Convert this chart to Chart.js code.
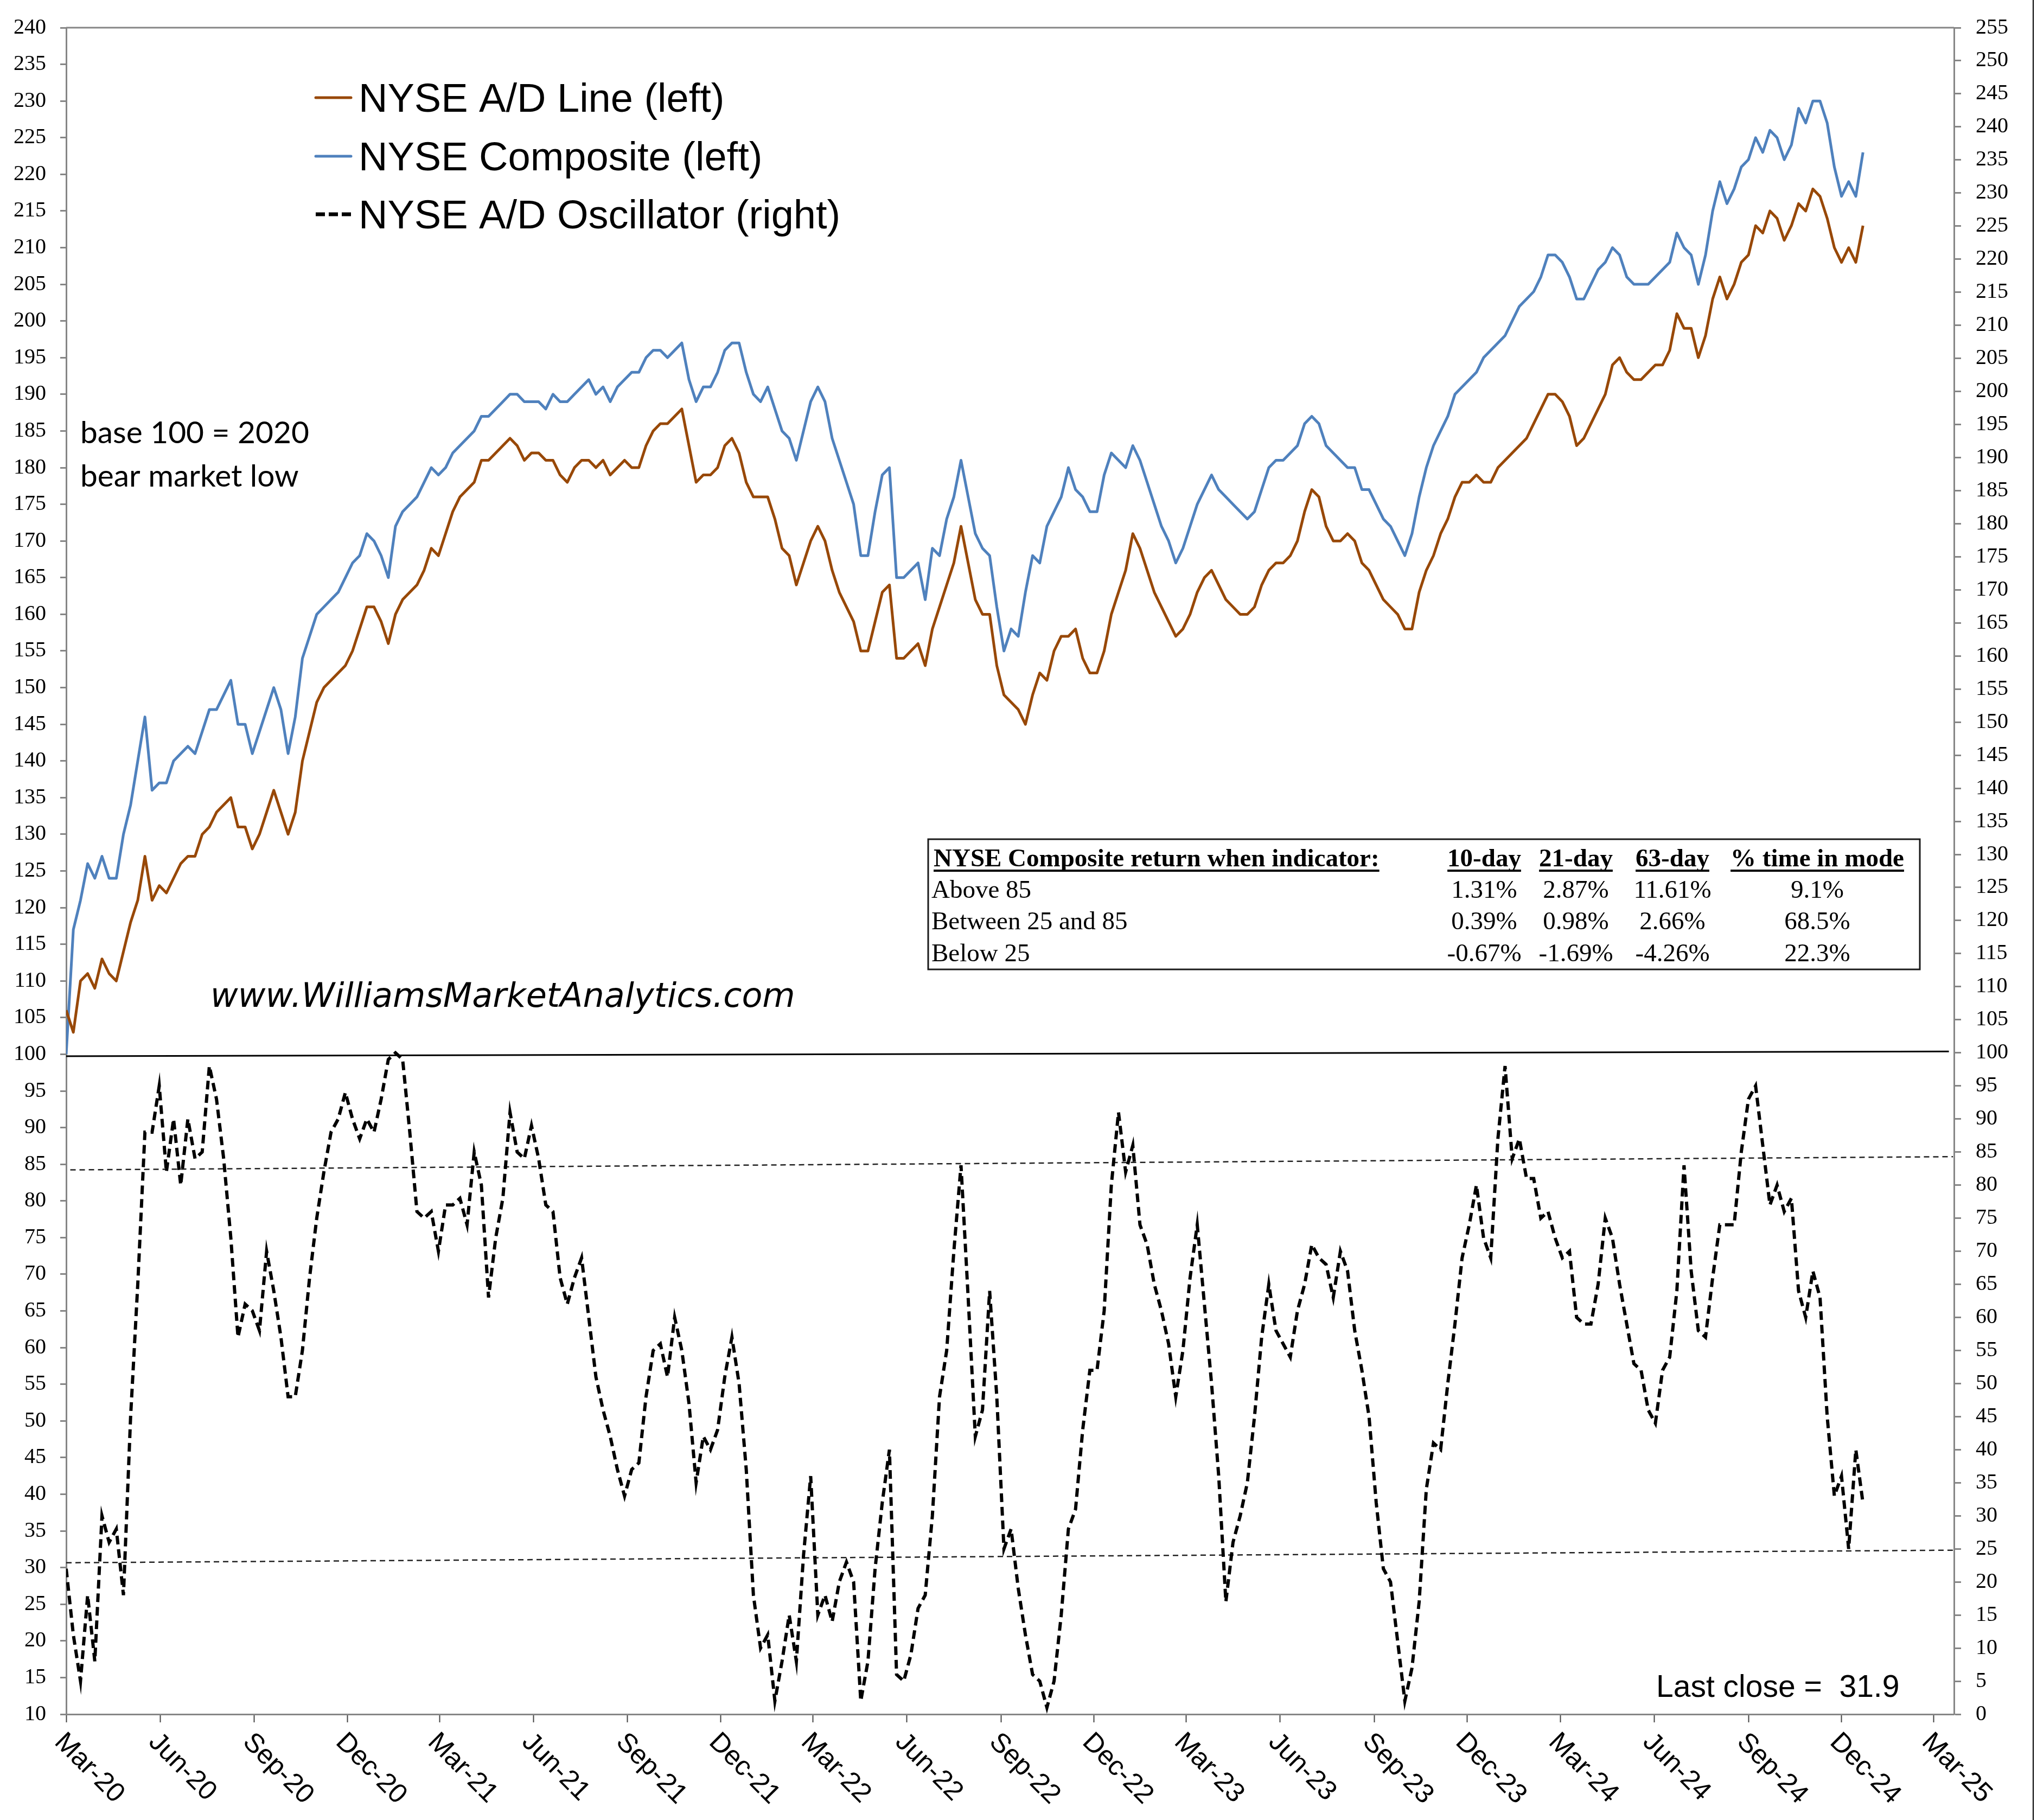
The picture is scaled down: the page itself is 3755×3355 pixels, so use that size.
<!DOCTYPE html>
<html>
<head>
<meta charset="utf-8">
<title>NYSE A/D Line, NYSE Composite and NYSE A/D Oscillator</title>
<script src="https://cdn.jsdelivr.net/npm/chart.js@4.4.1/dist/chart.umd.min.js"></script>
<style>
  html, body { margin: 0; padding: 0; background: #fff; }
  #wrap { width: 3755px; height: 3355px; }
</style>
</head>
<body>
<div id="wrap"><canvas id="chart" width="3755" height="3355"></canvas></div>
<script>
// weekly readings, first point is the 2020 bear market low
const startDate = '2020-03-23';
const stepDays = 7;

// NYSE A/D Line (left axis)
const adLine = [
  106,103,110,111,109,113,111,110,114,118,121,127,121,123,
  122,124,126,127,127,130,131,133,134,135,131,131,128,
  130,133,136,133,130,133,140,144,148,150,151,152,153,155,
  158,161,161,159,156,160,162,163,164,166,169,168,
  171,174,176,177,178,181,181,182,183,184,183,181,182,
  182,181,181,179,178,180,181,181,180,181,179,180,181,
  180,180,183,185,186,186,187,188,183,178,179,179,180,183,
  184,182,178,176,176,176,173,169,168,164,167,170,172,
  170,166,163,161,159,155,155,159,163,164,154,154,155,
  156,153,158,161,164,167,172,167,162,160,160,153,
  149,148,147,145,149,152,151,155,157,157,158,154,152,152,
  155,160,163,166,171,169,166,163,161,159,157,158,
  160,163,165,166,164,162,161,160,160,161,164,166,167,
  167,168,170,174,177,176,172,170,170,171,170,167,166,
  164,162,161,160,158,158,163,166,168,171,173,176,178,178,
  179,178,178,180,181,182,183,184,186,188,190,190,189,
  187,183,184,186,188,190,194,195,193,192,192,193,194,194,196,
  201,199,199,195,198,203,206,203,205,208,209,213,212,215,214,211,213,216,215,218,217,214,210,208,210,208,213
];

// NYSE Composite (left axis)
const composite = [
  100,117,121,126,124,127,124,124,130,134,140,146,136,137,
  137,140,141,142,141,144,147,147,149,151,145,145,141,
  144,147,150,147,141,146,154,157,160,161,162,163,165,167,
  168,171,170,168,165,172,174,175,176,178,180,179,
  180,182,183,184,185,187,187,188,189,190,190,189,189,
  189,188,190,189,189,190,191,192,190,191,189,191,192,
  193,193,195,196,196,195,196,197,192,189,191,191,193,196,
  197,197,193,190,189,191,188,185,184,181,185,189,191,
  189,184,181,178,175,168,168,174,179,180,165,165,166,
  167,162,169,168,173,176,181,176,171,169,168,161,
  155,158,157,163,168,167,172,174,176,180,177,176,174,174,
  179,182,181,180,183,181,178,175,172,170,167,169,
  172,175,177,179,177,176,175,174,173,174,177,180,181,
  181,182,183,186,187,186,183,182,181,180,180,177,177,
  175,173,172,170,168,171,176,180,183,185,187,190,191,192,
  193,195,196,197,198,200,202,203,204,206,209,209,208,
  206,203,203,205,207,208,210,209,206,205,205,205,206,207,208,
  212,210,209,205,209,215,219,216,218,221,222,225,223,226,225,222,224,229,227,230,230,227,221,217,219,217,223
];

// NYSE A/D Oscillator (right axis)
const oscillator = [
  22,12,5,18,8,30,26,28,18,45,65,88,88,95,
  82,90,80,90,84,85,98,93,84,72,57,62,61,
  58,70,64,57,48,48,55,66,75,82,88,90,94,90,
  87,90,88,93,99,100,99,88,76,75,76,70,
  77,77,78,74,85,80,63,72,78,91,85,84,89,
  84,77,76,66,62,66,69,60,51,46,42,37,33,
  37,38,48,55,56,51,60,55,47,35,42,40,43,51,
  57,50,37,18,10,12,2,8,15,8,24,36,15,
  18,14,20,23,20,2,8,22,32,40,6,5,9,
  16,18,30,48,55,70,83,63,42,46,64,48,
  25,28,19,12,6,5,1,5,15,28,31,43,52,52,
  61,80,91,82,86,74,71,65,61,56,48,55,
  66,74,62,50,36,17,26,30,35,45,57,65,58,
  56,54,61,65,71,69,68,63,70,67,58,52,45,
  32,22,20,11,2,7,17,34,41,40,50,59,69,74,
  80,72,69,87,98,84,87,81,81,75,76,72,69,
  70,60,59,59,65,75,72,65,59,53,52,46,44,52,54,
  64,83,67,58,57,66,74,74,74,85,93,95,86,77,80,76,78,64,60,67,63,45,33,36,25,40,31.9
];

// hand drawn guide lines on the right axis (start, end)
const dividerLine = [99.5, 100.2];
const upperBand = [82.3, 84.3];
const lowerBand = [22.9, 24.8];

const quarterLabels = ['Mar-20','Jun-20','Sep-20','Dec-20','Mar-21','Jun-21','Sep-21','Dec-21',
  'Mar-22','Jun-22','Sep-22','Dec-22','Mar-23','Jun-23','Sep-23','Dec-23',
  'Mar-24','Jun-24','Sep-24','Dec-24','Mar-25'];

// return table
const tableHeader = ['NYSE Composite return when indicator:', '10-day', '21-day', '63-day', '% time in mode'];
const tableModes = ['Above 85', 'Between 25 and 85', 'Below 25'];
const ret10 = ['1.31%', '0.39%', '-0.67%'];
const ret21 = ['2.87%', '0.98%', '-1.69%'];
const ret63 = ['11.61%', '2.66%', '-4.26%'];
const timeInMode = ['9.1%', '68.5%', '22.3%'];

const lastClose = oscillator[oscillator.length - 1];

const BROWN = '#984807';
const BLUE = '#4F81BD';
const AXIS = '#868686';
const SERIF = '"Liberation Serif", "Times New Roman", serif';
const SANS = '"Liberation Sans", Arial, sans-serif';

const months = ['Jan','Feb','Mar','Apr','May','Jun','Jul','Aug','Sep','Oct','Nov','Dec'];
const t0 = Date.parse(startDate + 'T00:00:00Z');
const tickDays = quarterLabels.map(l => {
  const [m, y] = l.split('-');
  return (Date.UTC(2000 + +y, months.indexOf(m), 23) - t0) / 86400000;
});
const X_MAX = 1846;

const weekly = arr => arr.map((v, i) => ({ x: i * stepDays, y: v }));
const segment = (pair, x0, x1) => [{ x: x0, y: pair[0] }, { x: x1, y: pair[1] }];

// font size that makes text span the target width
function fitSize(ctx, text, style, family, target) {
  ctx.font = style + ' 100px ' + family;
  return 100 * target / ctx.measureText(text).width;
}

const decor = {
  id: 'decor',
  beforeDraw(chart) {
    const ctx = chart.ctx;
    ctx.save();
    ctx.fillStyle = '#fff';
    ctx.fillRect(0, 0, chart.width, chart.height);
    ctx.restore();
  },
  afterDraw(chart) {
    const { ctx, chartArea: a } = chart;
    const xs = chart.scales.x;
    ctx.save();

    // top border of the plot and right edge of the frame
    ctx.strokeStyle = AXIS;
    ctx.lineWidth = 3;
    ctx.beginPath(); ctx.moveTo(a.left, a.top); ctx.lineTo(a.right, a.top); ctx.stroke();
    ctx.strokeStyle = '#000';
    ctx.lineWidth = 2;
    ctx.beginPath(); ctx.moveTo(3748, 0); ctx.lineTo(3748, chart.height); ctx.stroke();

    // rotated date labels
    ctx.fillStyle = '#000';
    ctx.font = '50px ' + SANS;
    ctx.textAlign = 'left';
    ctx.textBaseline = 'alphabetic';
    quarterLabels.forEach((lab, k) => {
      const px = xs.getPixelForValue(tickDays[k]);
      ctx.save();
      ctx.translate(px + 2, a.bottom + 28);
      ctx.rotate(Math.PI / 4);
      ctx.fillText(lab, 0, 36);
      ctx.restore();
    });

    // legend
    const legend = [
      { text: 'NYSE A/D Line (left)', color: BROWN, dash: [], y: 180 },
      { text: 'NYSE Composite (left)', color: BLUE, dash: [], y: 288 },
      { text: 'NYSE A/D Oscillator (right)', color: '#000', dash: [17, 7], y: 395 }
    ];
    ctx.font = '74px ' + SANS;
    legend.forEach(it => {
      ctx.strokeStyle = it.color;
      ctx.lineWidth = it.dash.length ? 7 : 5;
      ctx.lineCap = it.dash.length ? 'butt' : 'round';
      ctx.setLineDash(it.dash);
      ctx.beginPath(); ctx.moveTo(582, it.y); ctx.lineTo(647, it.y); ctx.stroke();
      ctx.setLineDash([]);
      ctx.fillText(it.text, 661, it.y + 26);
    });

    // notes
    const noteFont = 'Lato, "Open Sans", sans-serif';
    const nSize = fitSize(ctx, 'base 100 = 2020', 'normal', noteFont, 422);
    ctx.font = nSize + 'px ' + noteFont;
    ctx.fillText('base 100 = 2020', 148, 817);
    ctx.fillText('bear market low', 148, 897);

    const urlFont = '"DejaVu Sans", Verdana, sans-serif';
    const url = 'www.WilliamsMarketAnalytics.com';
    const uSize = fitSize(ctx, url, 'italic', urlFont, 1078);
    ctx.font = 'italic ' + uSize + 'px ' + urlFont;
    ctx.fillText(url, 388, 1856);

    ctx.font = '57px ' + SANS;
    ctx.fillText('Last close =  ' + lastClose.toFixed(1), 3053, 3128);

    // return table
    ctx.strokeStyle = '#1a1a1a';
    ctx.lineWidth = 3;
    ctx.strokeRect(1711, 1547, 3539 - 1711, 1787 - 1547);
    const cols = [2736, 2905, 3083, 3350];
    const headBase = 1597;
    const rowBase = [1655, 1713, 1772];
    ctx.font = 'bold 47px ' + SERIF;
    ctx.fillStyle = '#000';
    const underline = (x0, w) => { ctx.fillRect(x0, headBase + 6, w, 4); };
    let w = ctx.measureText(tableHeader[0]).width;
    ctx.textAlign = 'left';
    ctx.fillText(tableHeader[0], 1721, headBase);
    underline(1721, w);
    ctx.textAlign = 'center';
    for (let c = 1; c < tableHeader.length; c++) {
      w = ctx.measureText(tableHeader[c]).width;
      ctx.fillText(tableHeader[c], cols[c - 1], headBase);
      underline(cols[c - 1] - w / 2, w);
    }
    ctx.font = '47px ' + SERIF;
    const colsData = [ret10, ret21, ret63, timeInMode];
    tableModes.forEach((m, r) => {
      ctx.textAlign = 'left';
      ctx.fillText(m, 1717, rowBase[r]);
      ctx.textAlign = 'center';
      colsData.forEach((col, c) => ctx.fillText(col[r], cols[c], rowBase[r]));
    });

    ctx.restore();
  }
};

const yTicks = {
  color: '#000',
  font: { family: SERIF, size: 40 },
  autoSkip: false,
  stepSize: 5
};

new Chart(document.getElementById('chart'), {
  type: 'line',
  data: {
    datasets: [
      { label: 'NYSE A/D Oscillator (right)', data: weekly(oscillator), yAxisID: 'y2',
        borderColor: '#000', borderWidth: 6, borderDash: [16, 9], pointRadius: 0, tension: 0 },
      { label: 'NYSE A/D Line (left)', data: weekly(adLine), yAxisID: 'y',
        borderColor: BROWN, borderWidth: 5, pointRadius: 0, tension: 0, borderJoinStyle: 'round' },
      { label: 'NYSE Composite (left)', data: weekly(composite), yAxisID: 'y',
        borderColor: BLUE, borderWidth: 5, pointRadius: 0, tension: 0, borderJoinStyle: 'round' },
      { label: 'divider', data: segment(dividerLine, 0, 1841), yAxisID: 'y2',
        borderColor: '#000', borderWidth: 3, pointRadius: 0 },
      { label: 'upper', data: segment(upperBand, 4, 1845), yAxisID: 'y2',
        borderColor: '#222', borderWidth: 2.5, borderDash: [10, 7], pointRadius: 0 },
      { label: 'lower', data: segment(lowerBand, 0, 1845), yAxisID: 'y2',
        borderColor: '#222', borderWidth: 2.5, borderDash: [10, 7], pointRadius: 0 }
    ]
  },
  options: {
    responsive: false,
    animation: false,
    devicePixelRatio: 1,
    layout: { padding: { top: 34, left: 0, right: 0, bottom: 0 } },
    plugins: { legend: { display: false }, tooltip: { enabled: false } },
    scales: {
      x: {
        type: 'linear',
        min: 0,
        max: X_MAX,
        afterBuildTicks: s => { s.ticks = tickDays.map(v => ({ value: v })); },
        afterFit: s => { s.height = 195; },
        ticks: { display: false },
        grid: { drawOnChartArea: false, drawTicks: true, tickLength: 15, tickColor: '#444', tickWidth: 2 },
        border: { display: true, color: AXIS, width: 3 }
      },
      y: {
        position: 'left',
        min: 10,
        max: 240,
        ticks: { ...yTicks, padding: 26 },
        afterFit: s => { s.width = 122; },
        grid: { drawOnChartArea: false, tickLength: 11, tickColor: AXIS, tickWidth: 3 },
        border: { display: true, color: AXIS, width: 3 }
      },
      y2: {
        position: 'right',
        min: 0,
        max: 255,
        ticks: { ...yTicks, padding: 27 },
        afterFit: s => { s.width = 153; },
        grid: { drawOnChartArea: false, tickLength: 13, tickColor: AXIS, tickWidth: 3 },
        border: { display: true, color: AXIS, width: 3 }
      }
    }
  },
  plugins: [decor]
});
</script>
</body>
</html>
